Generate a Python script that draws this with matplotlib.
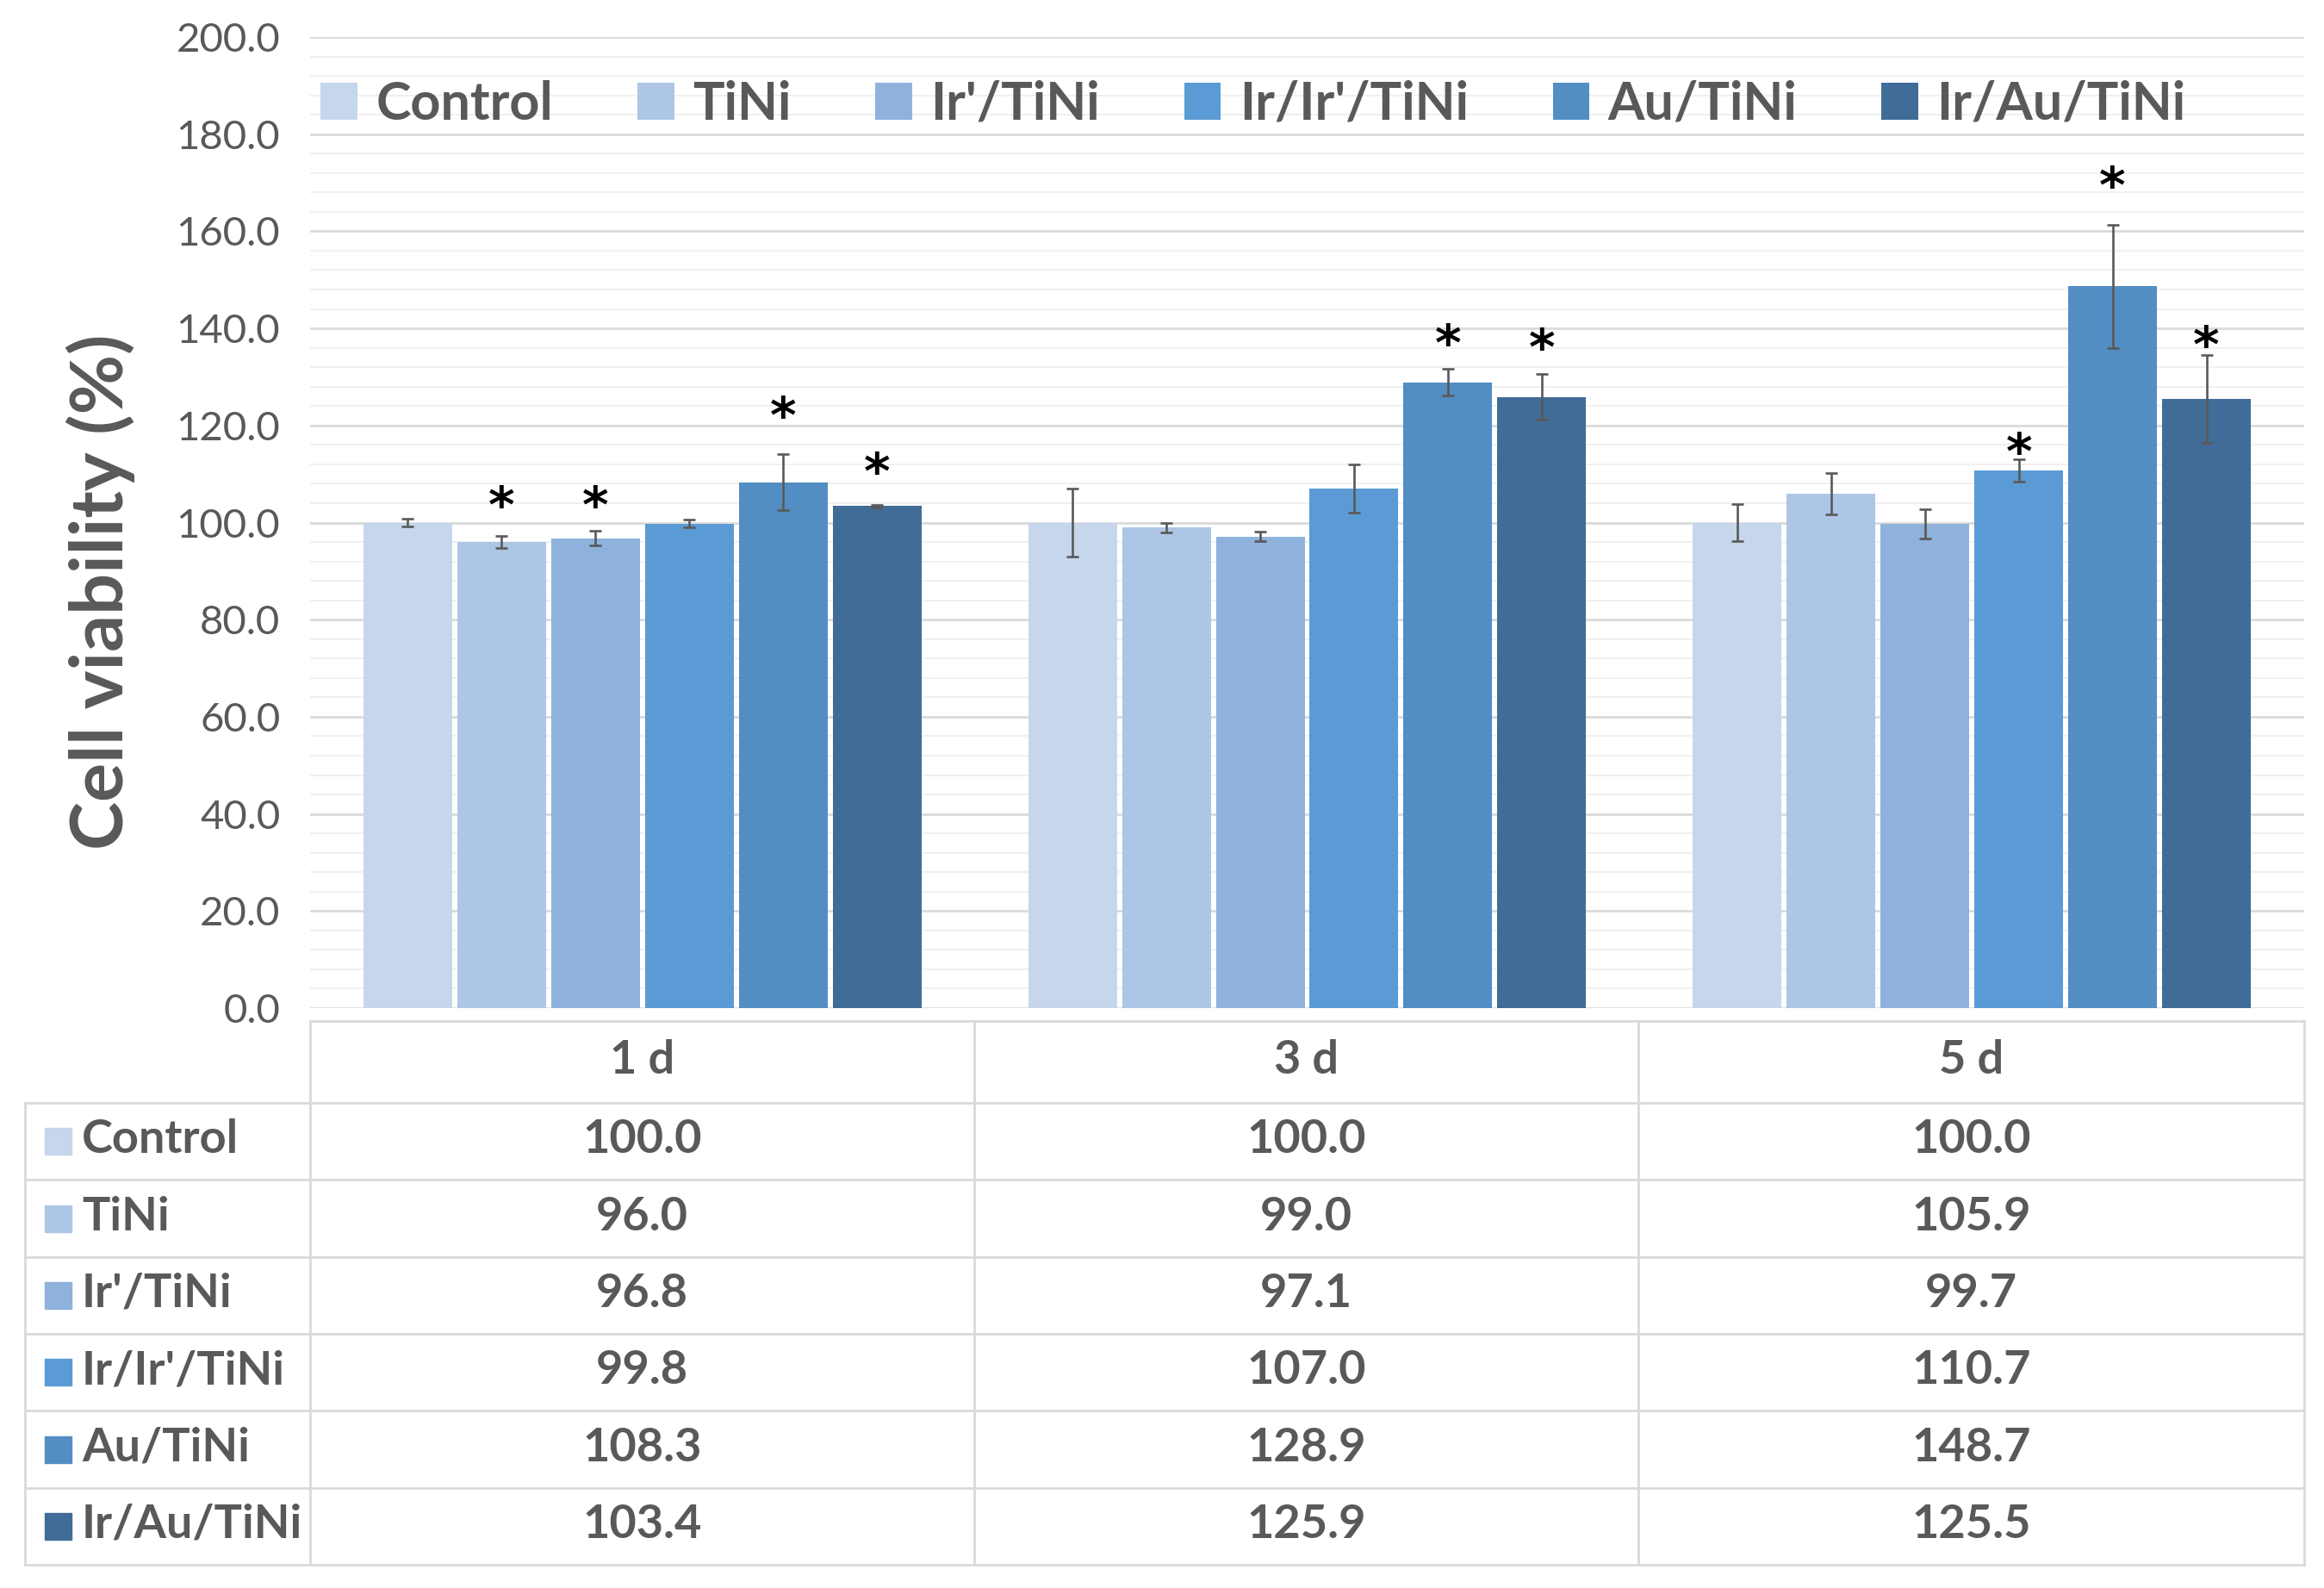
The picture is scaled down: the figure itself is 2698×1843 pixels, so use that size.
import matplotlib
matplotlib.use('Agg')
import matplotlib.pyplot as plt
import numpy as np
from matplotlib.patches import Rectangle
from matplotlib.lines import Line2D
from matplotlib.ticker import MultipleLocator, FormatStrFormatter
import matplotlib.transforms as mtransforms

plt.rcParams['font.family'] = ['Lato', 'DejaVu Sans']

# ---------------- data ----------------
days = ['1 d', '3 d', '5 d']
series = ['Control', 'TiNi', "Ir'/TiNi", "Ir/Ir'/TiNi", 'Au/TiNi', 'Ir/Au/TiNi']
colors = ['#C6D6EC', '#ADC6E5', '#8EB2DC', '#5B9BD5', '#528EC4', '#416C97']

control = [100.0, 100.0, 100.0]
tini = [96.0, 99.0, 105.9]
ir_tini = [96.8, 97.1, 99.7]
ir_ir_tini = [99.8, 107.0, 110.7]
au_tini = [108.3, 128.9, 148.7]
ir_au_tini = [103.4, 125.9, 125.5]

err_control = [0.8, 7.0, 3.8]
err_tini = [1.3, 1.0, 4.3]
err_ir_tini = [1.5, 1.0, 3.0]
err_ir_ir_tini = [0.8, 5.0, 2.3]
err_au_tini = [5.8, 2.8, 12.7]
err_ir_au_tini = [0.3, 4.7, 9.0]

# y position of significance asterisks (None = no asterisk)
star_control = [None, None, None]
star_tini = [105.7, None, None]
star_ir_tini = [105.7, None, None]
star_ir_ir_tini = [None, None, 116.8]
star_au_tini = [124.2, 139.2, 171.6]
star_ir_au_tini = [112.7, 138.2, 138.7]

y_ticks = [0, 20, 40, 60, 80, 100, 120, 140, 160, 180, 200]

values = [control, tini, ir_tini, ir_ir_tini, au_tini, ir_au_tini]
errors = [err_control, err_tini, err_ir_tini, err_ir_ir_tini, err_au_tini, err_ir_au_tini]
stars = [star_control, star_tini, star_ir_tini, star_ir_ir_tini, star_au_tini, star_ir_au_tini]

# ---------------- layout ----------------
W, H = 2698, 1843
fig = plt.figure(figsize=(W / 100, H / 100), dpi=100)
TXT = '#595959'
GRID = '#D9D9D9'

ax_l, ax_r, ax_t, ax_b = 360, 2675, 43, 1170
ax = fig.add_axes([ax_l / W, 1 - ax_b / H, (ax_r - ax_l) / W, (ax_b - ax_t) / H])
ax.set_xlim(0, len(days))
ax.set_ylim(0, 200)
for s in ax.spines.values():
    s.set_visible(False)
ax.set_yticks(y_ticks)
ax.yaxis.set_major_formatter(FormatStrFormatter('%.1f'))
ax.yaxis.set_minor_locator(MultipleLocator(4))
ax.set_xticks([])
ax.tick_params(axis='y', which='both', length=0)
ax.tick_params(axis='y', which='major', labelsize=34, labelcolor=TXT, pad=25)
ax.grid(True, axis='y', which='major', color=GRID, linewidth=1.9)
ax.grid(True, axis='y', which='minor', color='#F0F0F0', linewidth=1.4)
ax.set_axisbelow(True)

pitch = 109 / 772
bw = 103 / 772
xc = np.arange(len(days)) + 0.5
star_tr = mtransforms.offset_copy(ax.transData, fig=fig, y=-23, units='points')
handles = []
for i, (vals, errs, col, st) in enumerate(zip(values, errors, colors, stars)):
    x = xc + (i - 2.5) * pitch
    b = ax.bar(x, vals, bw, color=col, yerr=errs, zorder=2,
               error_kw=dict(ecolor=TXT, elinewidth=1.9, capsize=5, capthick=1.9, zorder=3))
    handles.append(b)
    for xi, sy in zip(x, st):
        if sy is not None:
            ax.text(xi, sy, '*', transform=star_tr, ha='center', va='baseline',
                    fontsize=42, fontweight='bold', color='black',
                    family=['DejaVu Sans'], zorder=4)

ax.legend(handles, series, ncol=6, loc='center left', bbox_to_anchor=(0.0052, 0.931),
          frameon=False, prop={'weight': 'bold', 'size': 44}, labelcolor=TXT,
          handlelength=0.7, handleheight=0.7, handletextpad=0.35,
          columnspacing=1.6, borderpad=0, borderaxespad=0)

fig.text(117 / W, 1 - 687 / H, 'Cell viability (%)', rotation=90, ha='center', va='center',
         fontsize=61, fontweight='bold', color=TXT)

# ---------------- data table ----------------
tab = fig.add_axes([0, 0, 1, 1])
tab.set_xlim(0, W)
tab.set_ylim(H, 0)
tab.axis('off')

lab_l = 29
col_edges = [360, 1131, 1902, 2675]
head_top, head_bot, tab_bot = 1185, 1280, 1816
row_h = (tab_bot - head_bot) / len(series)
lw_t = 1.95

def hline(y, x0, x1):
    tab.add_line(Line2D([x0, x1], [y, y], color=GRID, lw=lw_t))

def vline(x, y0, y1):
    tab.add_line(Line2D([x, x], [y0, y1], color=GRID, lw=lw_t))

hline(head_top, col_edges[0], col_edges[-1])
for k in range(len(series) + 1):
    hline(head_bot + k * row_h, lab_l, col_edges[-1])
for xe in col_edges:
    vline(xe, head_top, tab_bot)
vline(lab_l, head_bot, tab_bot)

for j, d in enumerate(days):
    cx = (col_edges[j] + col_edges[j + 1]) / 2
    tab.text(cx, (head_top + head_bot) / 2 - 2, d, ha='center', va='center',
             fontsize=39, fontweight='bold', color=TXT)

sq = 31
for i, (name, vals, col) in enumerate(zip(series, values, colors)):
    cy = head_bot + (i + 0.5) * row_h
    tab.add_patch(Rectangle((52, cy - sq / 2), sq, sq, color=col))
    tab.text(95, cy - 2, name, ha='left', va='center', fontsize=39, fontweight='bold', color=TXT)
    for j, v in enumerate(vals):
        cx = (col_edges[j] + col_edges[j + 1]) / 2
        tab.text(cx, cy - 2, f'{v:.1f}', ha='center', va='center',
                 fontsize=39, fontweight='bold', color=TXT)

fig.savefig('out.png', dpi=100, facecolor='white')
